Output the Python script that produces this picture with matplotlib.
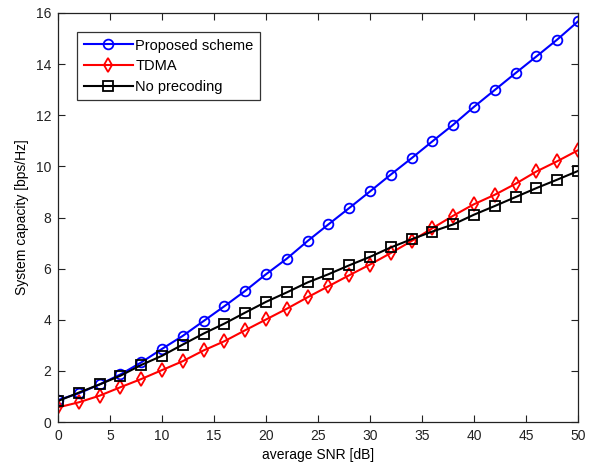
import matplotlib
matplotlib.use("Agg")
import matplotlib.pyplot as plt
import numpy as np

plt.rcParams['font.family'] = ['Liberation Sans', 'DejaVu Sans']

snr_db = list(range(0, 51, 2))
proposed = [0.86, 1.12, 1.47, 1.86, 2.33, 2.86, 3.37, 3.95, 4.53, 5.13, 5.78, 6.39,
            7.08, 7.73, 8.37, 9.02, 9.68, 10.32, 10.98, 11.63, 12.33, 12.99, 13.65,
            14.3, 14.96, 15.67]
tdma = [0.57, 0.77, 1.03, 1.36, 1.68, 2.03, 2.38, 2.80, 3.16, 3.59, 4.01, 4.43,
        4.88, 5.31, 5.74, 6.16, 6.61, 7.08, 7.58, 8.07, 8.52, 8.89, 9.32, 9.8,
        10.2, 10.63]
no_precoding = [0.82, 1.15, 1.47, 1.81, 2.23, 2.59, 3.03, 3.46, 3.85, 4.28, 4.7,
                5.07, 5.46, 5.78, 6.13, 6.46, 6.83, 7.15, 7.45, 7.73, 8.11, 8.45,
                8.8, 9.15, 9.48, 9.82]

labels = ['Proposed scheme', 'TDMA', 'No precoding']

fig = plt.figure(figsize=(5.94, 4.66), dpi=100)
ax = fig.add_axes([58/594, 1 - 422/466, (578-58)/594, (422-13)/466])

ax.plot(snr_db, proposed, color='#0000ff', marker='o', markersize=7,
        markerfacecolor='none', markeredgewidth=1.3, linewidth=1.5, label=labels[0])
ax.plot(snr_db, tdma, color='#ff0000', marker='d', markersize=7,
        markerfacecolor='none', markeredgewidth=1.3, linewidth=1.5, label=labels[1])
ax.plot(snr_db, no_precoding, color='#000000', marker='s', markersize=7,
        markerfacecolor='none', markeredgewidth=1.3, linewidth=1.5, label=labels[2])

ax.set_xlim(0, 50)
ax.set_ylim(0, 16)
ax.set_xticks(range(0, 51, 5))
ax.set_yticks(range(0, 17, 2))
ax.tick_params(direction='in', top=True, right=True, labelsize=10, length=5,
               width=0.8, pad=5, colors='#222222')
for s in ax.spines.values():
    s.set_linewidth(0.9)
    s.set_color('#222222')

ax.set_xlabel('average SNR [dB]', fontsize=10, labelpad=4)
ax.set_ylabel('System capacity [bps/Hz]', fontsize=10, labelpad=5)

leg = ax.legend(loc='upper left', bbox_to_anchor=(0.0365, 0.9535), fontsize=10.5,
                frameon=True, fancybox=False, edgecolor='black', handlelength=3.4,
                handletextpad=0.15, borderpad=0.45, labelspacing=0.45, borderaxespad=0)
leg.get_frame().set_linewidth(0.9)

fig.savefig('out.png', dpi=100)
